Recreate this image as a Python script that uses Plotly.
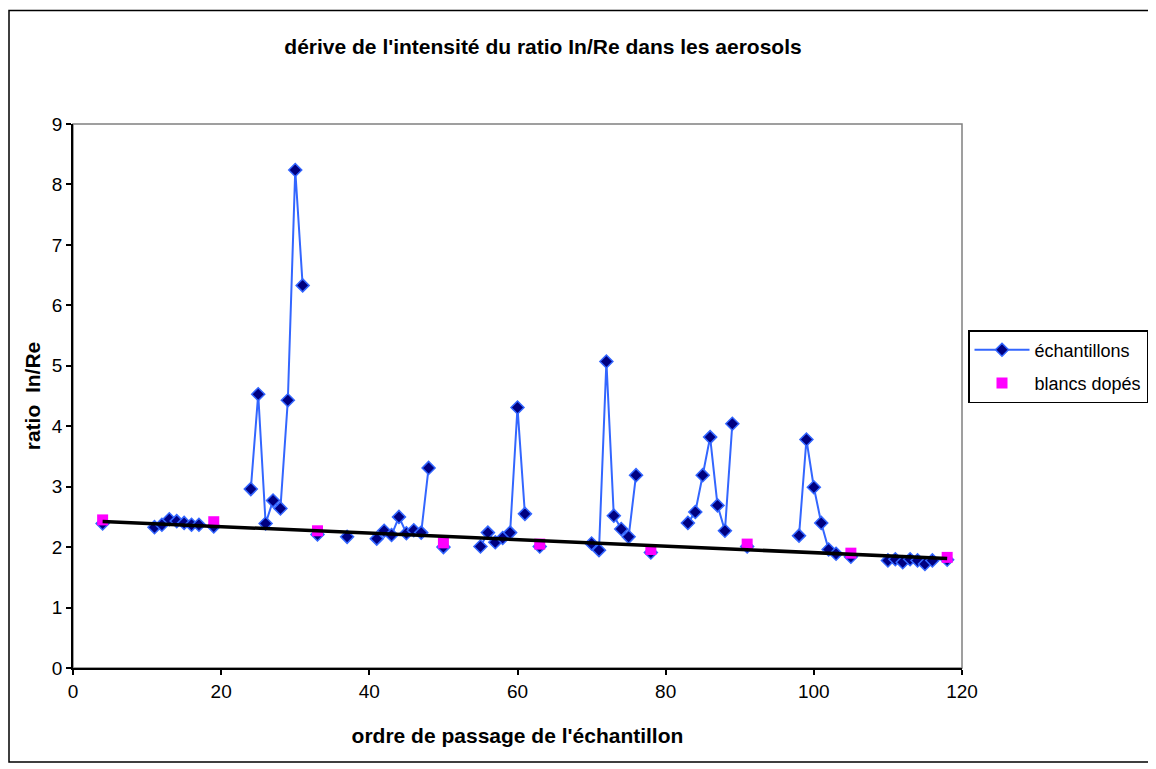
import numpy as np
import plotly.graph_objects as go

# sample order (x) and In/Re ratio for samples; None = no measurement (gap in line)
ech_x = [4, 5, 11, 12, 13, 14, 15, 16, 17, 18, 19, 20, 24, 25, 26, 27, 28, 29, 30, 31, 32,
         33, 34, 37, 38, 41, 42, 43, 44, 45, 46, 47, 48, 49, 50, 51, 55, 56, 57, 58, 59, 60, 61, 62,
         63, 64, 70, 71, 72, 73, 74, 75, 76, 77, 78, 79, 83, 84, 85, 86, 87, 88, 89, 90,
         91, 92, 98, 99, 100, 101, 102, 103, 104, 105, 106, 110, 111, 112, 113, 114, 115, 116, 117, 118]
ech_y = [2.39, None, 2.33, 2.37, 2.46, 2.43, 2.40, 2.37, 2.37, None, 2.34, None,
         2.96, 4.53, 2.39, 2.77, 2.64, 4.43, 8.24, 6.33, None,
         2.21, None, 2.17, None, 2.14, 2.27, 2.20, 2.50, 2.23, 2.28, 2.24, 3.31, None,
         2.00, None, 2.01, 2.24, 2.08, 2.15, 2.24, 4.31, 2.55, None,
         2.01, None, 2.06, 1.95, 5.07, 2.52, 2.30, 2.17, 3.19, None,
         1.91, None, 2.40, 2.58, 3.19, 3.82, 2.69, 2.27, 4.04, None,
         2.01, None, 2.19, 3.78, 2.99, 2.40, 1.96, 1.89, None,
         1.84, None, 1.78, 1.80, 1.75, 1.80, 1.78, 1.72, 1.78, None, 1.79]

# spiked blanks
blanc_x = [4, 19, 33, 50, 63, 78, 91, 105, 118]
blanc_y = [2.45, 2.42, 2.27, 2.07, 2.05, 1.96, 2.05, 1.90, 1.83]

title_txt = "dérive de l'intensité du ratio In/Re dans les aerosols"
xlabel = "ordre de passage de l'échantillon"
ylabel = "ratio  In/Re"

# linear trendline of the blanks (as Excel's trendline)
slope, intercept = np.polyfit(blanc_x, blanc_y, 1)
trend_x = [min(blanc_x), max(blanc_x)]
trend_y = [slope * v + intercept for v in trend_x]

FONT = "Liberation Sans, Arial, sans-serif"

fig = go.Figure()
fig.add_trace(go.Scatter(
    x=ech_x, y=ech_y, mode="lines+markers", name="échantillons",
    line=dict(color="#3366FF", width=2), connectgaps=False,
    marker=dict(symbol="diamond", size=10, color="#000080",
                line=dict(color="#3366FF", width=1.5)),
    legendgroup="a"))
fig.add_trace(go.Scatter(
    x=blanc_x, y=blanc_y, mode="markers", name="blancs dopés",
    marker=dict(symbol="square", size=11, color="#FF00FF"),
    legendgroup="b"))
fig.add_trace(go.Scatter(
    x=trend_x, y=trend_y, mode="lines", showlegend=False,
    line=dict(color="black", width=3.5), hoverinfo="skip"))

OFF = 8  # page body margin
W, H = 1156 - OFF, 769 - OFF
L, T = 73 - OFF, 124 - OFF
pw, ph = 889, 544
R, B = W - L - pw, H - T - ph

def px(xpage):
    return (xpage - OFF - L) / pw

def py(ypage):
    return (T + ph - (ypage - OFF)) / ph

frame = "M {r},{t} L {l},{t} L {l},{b} L {r},{b}".format(
    l=px(9), r=px(1200), t=py(10.5), b=py(762))

fig.update_layout(
    width=W, height=H,
    margin=dict(l=L, r=R, t=T, b=B, autoexpand=False),
    paper_bgcolor="white", plot_bgcolor="white",
    font=dict(family=FONT, size=19, color="black"),
    title=dict(text="<b>" + title_txt + "</b>", x=(543 - OFF) / W, xref="container", xanchor="center",
               y=1 - (47 - OFF) / H, yref="container", yanchor="middle",
               font=dict(family=FONT, size=21, color="black")),
    showlegend=True,
    legend=dict(x=px(968), y=py(330), xanchor="left", yanchor="top",
                bordercolor="black", borderwidth=1.5, bgcolor="white",
                font=dict(family=FONT, size=18, color="black"),
                tracegroupgap=7, itemwidth=55,
                entrywidth=160, entrywidthmode="pixels"),
    shapes=[
        dict(type="rect", xref="paper", yref="paper", x0=0, x1=1, y0=0, y1=1,
             line=dict(color="#808080", width=1.5), layer="below"),
        dict(type="path", xref="paper", yref="paper", path=frame,
             line=dict(color="black", width=1.5), layer="below"),
    ],
)
fig.update_xaxes(
    range=[0, 120], dtick=20, tick0=0, showgrid=False, zeroline=False,
    showline=True, linecolor="black", linewidth=1.5,
    ticks="outside", ticklen=5, tickwidth=1.5, tickcolor="black",
    tickfont=dict(family=FONT, size=19),
    title=dict(text="<b>" + xlabel + "</b>", standoff=28,
               font=dict(family=FONT, size=21)))
fig.update_yaxes(
    range=[0, 9], dtick=1, tick0=0, showgrid=False, zeroline=False,
    showline=True, linecolor="black", linewidth=1.5,
    ticks="outside", ticklen=5, tickwidth=1.5, tickcolor="black",
    tickfont=dict(family=FONT, size=19),
    title=dict(text="<b>" + ylabel + "</b>", standoff=6,
               font=dict(family=FONT, size=21)))

fig.write_html("out.html")
